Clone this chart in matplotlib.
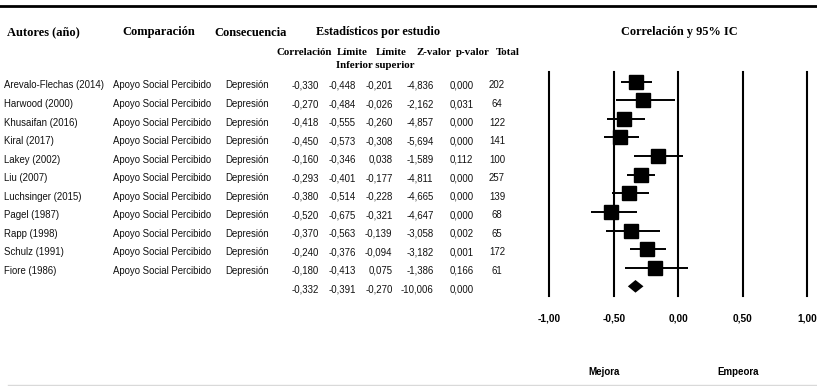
import numpy as np
import matplotlib
matplotlib.use('Agg')
from matplotlib import pyplot as plt

autores = ["Arevalo-Flechas (2014)", "Harwood (2000)", "Khusaifan (2016)", "Kiral (2017)",
           "Lakey (2002)", "Liu (2007)", "Luchsinger (2015)", "Pagel (1987)",
           "Rapp (1998)", "Schulz (1991)", "Fiore (1986)"]
comparacion = "Apoyo Social Percibido"
consecuencia = "Depresión"
correlacion = [-0.330, -0.270, -0.418, -0.450, -0.160, -0.293, -0.380, -0.520, -0.370, -0.240, -0.180]
lim_inf = [-0.448, -0.484, -0.555, -0.573, -0.346, -0.401, -0.514, -0.675, -0.563, -0.376, -0.413]
lim_sup = [-0.201, -0.026, -0.260, -0.308, 0.038, -0.177, -0.228, -0.321, -0.139, -0.094, 0.075]
z_valor = [-4.836, -2.162, -4.857, -5.694, -1.589, -4.811, -4.665, -4.647, -3.058, -3.182, -1.386]
p_valor = [0.000, 0.031, 0.000, 0.000, 0.112, 0.000, 0.000, 0.000, 0.002, 0.001, 0.166]
total = [202, 64, 122, 141, 100, 257, 139, 68, 65, 172, 61]
# efecto combinado
resumen = [-0.332, -0.391, -0.270, -10.006, 0.000]
ticks = [-1.0, -0.5, 0.0, 0.5, 1.0]

sans = 'Liberation Sans'
serif = 'Liberation Serif'


def fmt(v):
    return f"{v:.3f}".replace('.', ',')


fig = plt.figure(figsize=(8.17, 3.86), dpi=100)
bg = fig.add_axes([0, 0, 1, 1])
bg.set_xlim(0, 817)
bg.set_ylim(386, 0)
bg.axis('off')

# lineas de arriba y abajo
bg.plot([0, 817], [6, 6], color='black', lw=2)
bg.plot([8, 817], [385, 385], color='#d9d9d9', lw=1)

# cabeceras
hd = dict(family=serif, weight='bold', va='center', color='black')
bg.text(7, 32.5, "Autores (año)", ha='left', fontsize=9.0, **hd)
bg.text(158.3, 32.5, "Comparación", ha='center', fontsize=9.0, **hd)
bg.text(251, 32.5, "Consecuencia", ha='center', fontsize=9.0, **hd)
bg.text(378, 31.5, "Estadísticos por estudio", ha='center', fontsize=8.8, **hd)
bg.text(679, 32, "Correlación y 95% IC", ha='center', fontsize=8.8, **hd)

sub = ["Correlación", "Límite", "Límite", "Z-valor", "p-valor", "Total"]
sub_x = [303.8, 352.5, 391.7, 434.3, 473.3, 507.5]
for s, x in zip(sub, sub_x):
    bg.text(x, 52.7, s, ha='center', fontsize=7.8, **hd)
bg.text(375.5, 65.5, "Inferior superior", ha='center', fontsize=7.8, **hd)

# filas de la tabla
tx = dict(family=sans, fontsize=6.9, va='center', color='#111111')
col_x = [319, 356, 392.5, 433.5, 473.3]
for i in range(len(autores)):
    y = 85.5 + 18.53 * i
    bg.text(4, y, autores[i], ha='left', **tx)
    bg.text(112.6, y, comparacion, ha='left', **tx)
    bg.text(225.5, y, consecuencia, ha='left', **tx)
    vals = [correlacion[i], lim_inf[i], lim_sup[i], z_valor[i], p_valor[i]]
    for v, x in zip(vals, col_x):
        bg.text(x, y, fmt(v), ha='right', **tx)
    bg.text(497, y, str(total[i]), ha='center', **tx)
y = 85.5 + 18.53 * len(autores)
for v, x in zip(resumen, col_x):
    bg.text(x, y, fmt(v), ha='right', **tx)

# forest plot
ax = fig.add_axes([549.3 / 817, (386 - 296) / 386, 258 / 817, 224 / 386])
ax.set_xlim(-1, 1)
ax.set_ylim(11.52, -0.52)
for t in ticks:
    ax.axvline(t, color='black', lw=1.5, clip_on=False)

filas = np.arange(len(autores))
ax.hlines(filas, lim_inf, lim_sup, color='black', lw=1.4)
ax.plot(correlacion, filas, 's', color='black', markersize=9.5)

yd = len(autores)
ax.fill([resumen[1], resumen[0], resumen[2], resumen[0]],
        [yd, yd - 0.34, yd, yd + 0.34], color='black', lw=0)

ax.set_xticks(ticks)
ax.set_xticklabels([fmt(t)[:-1] for t in ticks], family=sans, weight='bold',
                   fontsize=7.3, color='black')
ax.tick_params(axis='x', length=0, pad=12.5)
ax.set_yticks([])
for sp in ax.spines.values():
    sp.set_visible(False)
ax.patch.set_alpha(0)

bg.text(604, 372, "Mejora", ha='center', va='center', family=sans, weight='bold', fontsize=7)
bg.text(738, 372, "Empeora", ha='center', va='center', family=sans, weight='bold', fontsize=7)

fig.savefig('out.png', dpi=100)
